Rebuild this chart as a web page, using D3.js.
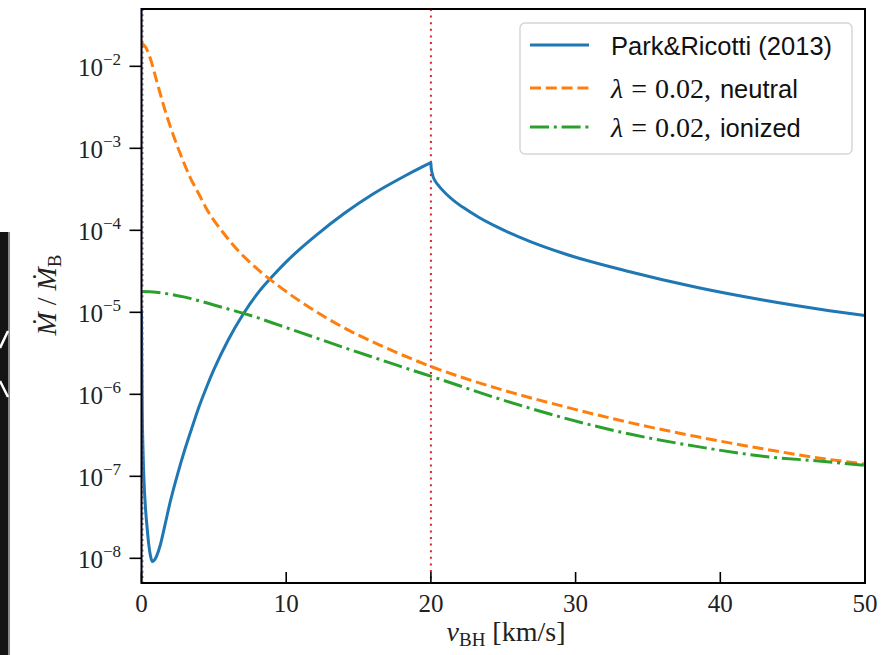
<!DOCTYPE html>
<html>
<head>
<meta charset="utf-8">
<script src="https://cdn.jsdelivr.net/npm/d3@7/dist/d3.min.js"></script>
<style>
  html, body { margin: 0; padding: 0; background: #fff; }
  svg { display: block; }
</style>
</head>
<body>
<svg id="chart" width="887" height="655"></svg>
<script>
// ---------------- data (values given as log10 of Mdot/Mdot_B) ----------------
const seriesNames = ["Park&Ricotti (2013)", "neutral", "ionized"];
const xTicks = [0, 10, 20, 30, 40, 50];
const yTickExps = [-2, -3, -4, -5, -6, -7, -8];

const parkV = [0, 0.02, 0.05, 0.1, 0.17, 0.28, 0.4, 0.5, 0.62, 0.75, 0.9, 1.05, 1.28, 1.6, 2, 2.5, 3, 3.5, 4, 4.5, 5, 6, 7, 8, 9, 10, 11, 12, 14, 16, 18, 19.5, 19.9, 20,
               20.01, 20.03, 20.08, 20.15, 20.3, 20.6, 21.08, 21.6, 22.22, 23.3, 24.53, 26.83, 29.13, 33.74, 38.34, 42.94, 47.55, 50];
const parkLog = [-4.97, -5.6, -6.2, -6.65, -7.04, -7.4, -7.65, -7.83, -7.97, -8.04, -8.02, -7.97, -7.85, -7.61, -7.30, -6.97, -6.67, -6.40, -6.14, -5.91, -5.70, -5.335, -5.03, -4.775, -4.57, -4.385, -4.22, -4.07, -3.795, -3.557, -3.356, -3.218, -3.183, -3.175,
                 -3.215, -3.25, -3.30, -3.345, -3.40, -3.47, -3.56, -3.64, -3.72, -3.84, -3.955, -4.135, -4.28, -4.505, -4.695, -4.85, -4.98, -5.04];

const neutralV = [0, 0.3, 0.6, 1.05, 1.6, 2.2, 2.8, 3.35, 4.0, 4.5, 5.65, 6.8, 8.0, 9.56, 11.87, 14.17, 16.47, 18.77, 19.92, 24.53, 29.13, 33.74, 38.34, 42.94, 47.55, 50];
const neutralLog = [-1.72, -1.77, -1.90, -2.18, -2.52, -2.84, -3.12, -3.35, -3.57, -3.74, -4.03, -4.27, -4.47, -4.69, -4.97, -5.205, -5.40, -5.575, -5.655, -5.925, -6.146, -6.345, -6.515, -6.665, -6.795, -6.85];

const ionizedV = [0, 1, 2, 3, 4, 5, 6, 7, 8, 9.56, 11.87, 14.17, 16.47, 18.77, 19.92, 24.53, 29.13, 33.74, 38.34, 42.94, 47.55, 50];
const ionizedLog = [-4.747, -4.755, -4.78, -4.815, -4.86, -4.91, -4.96, -5.01, -5.065, -5.16, -5.30, -5.44, -5.575, -5.71, -5.775, -6.045, -6.285, -6.485, -6.635, -6.755, -6.825, -6.868];

const vlines = [0, 20];

// ---------------- layout ----------------
const svg = d3.select("#chart");
const X0 = 141.5, X1 = 865, Y0 = 9, Y1 = 583;
const x = d3.scaleLinear().domain([0, 50]).range([X0, X1]);
const y = d3.scaleLog().domain([5e-9, 5e-2]).range([Y1, Y0]);

const SERIF = "'Liberation Serif', 'DejaVu Serif', serif";
const SANS = "'Liberation Sans', 'DejaVu Sans', sans-serif";

// left scan artefact stripe
svg.append("rect").attr("x", 0).attr("y", 232).attr("width", 8).attr("height", 423).attr("fill", "#141414");
svg.append("rect").attr("x", 8).attr("y", 232).attr("width", 2).attr("height", 423).attr("fill", "#888");
svg.append("path").attr("d", "M8,331 L0,348 M0,381 L8,397").attr("stroke", "#fff").attr("stroke-width", 2.5).attr("fill", "none");

const defs = svg.append("defs");
defs.append("clipPath").attr("id", "clip").append("rect")
  .attr("x", X0).attr("y", Y0).attr("width", X1 - X0).attr("height", Y1 - Y0);

const plot = svg.append("g").attr("clip-path", "url(#clip)");

const line = d3.line().x(d => x(d[0])).y(d => y(d[1])).curve(d3.curveMonotoneX);

// vertical reference line at 20 km/s
plot.append("line").attr("x1", x(vlines[1])).attr("x2", x(vlines[1])).attr("y1", Y0).attr("y2", Y1)
  .attr("stroke", "#d62728").attr("stroke-width", 2).attr("stroke-dasharray", "2,4.6");

const series = [
  { v: parkV, l: parkLog, color: "#1f77b4", dash: null },
  { v: neutralV, l: neutralLog, color: "#ff7f0e", dash: "11,4.8" },
  { v: ionizedV, l: ionizedLog, color: "#2ca02c", dash: "19,4.8,3,4.8" }
];
series.forEach(s => {
  const p = plot.append("path")
    .attr("d", line(s.v.map((v, i) => [v, Math.pow(10, s.l[i])])))
    .attr("fill", "none").attr("stroke", s.color).attr("stroke-width", 3)
    .attr("stroke-linejoin", "round");
  if (s.dash) p.attr("stroke-dasharray", s.dash);
});

plot.append("line").attr("x1", x(vlines[0]) + 1).attr("x2", x(vlines[0]) + 1).attr("y1", Y0).attr("y2", Y1)
  .attr("stroke", "#9467bd").attr("stroke-width", 2).attr("stroke-dasharray", "2,3.3");

// axes frame
svg.append("rect").attr("x", X0).attr("y", Y0).attr("width", X1 - X0).attr("height", Y1 - Y0)
  .attr("fill", "none").attr("stroke", "#000").attr("stroke-width", 2);

// x ticks (inward)
const gx = svg.append("g");
xTicks.forEach(t => {
  gx.append("line").attr("x1", x(t)).attr("x2", x(t)).attr("y1", Y1).attr("y2", Y1 - 11)
    .attr("stroke", "#000").attr("stroke-width", 1.6);
  gx.append("text").attr("x", x(t)).attr("y", 612).attr("text-anchor", "middle")
    .attr("font-family", SERIF).attr("font-size", 25).attr("fill", "#222").text(t);
});

// y ticks (outward)
const gy = svg.append("g");
yTickExps.forEach(e => {
  const yy = y(Math.pow(10, e));
  gy.append("line").attr("x1", X0 - 12).attr("x2", X0).attr("y1", yy).attr("y2", yy)
    .attr("stroke", "#000").attr("stroke-width", 1.6);
  const t = gy.append("text").attr("x", 121).attr("y", yy + 10).attr("text-anchor", "end")
    .attr("font-family", SERIF).attr("font-size", 25).attr("fill", "#222");
  t.append("tspan").text("10");
  t.append("tspan").attr("font-size", 17).attr("dy", -11).text("\u2212" + Math.abs(e));
});

// axis titles
const xt = svg.append("text").attr("x", 506).attr("y", 641).attr("text-anchor", "middle")
  .attr("font-family", SERIF).attr("font-size", 28).attr("fill", "#222");
xt.append("tspan").attr("font-style", "italic").text("v");
xt.append("tspan").attr("font-size", 19).attr("dy", 5).text("BH");
xt.append("tspan").attr("dy", -5).text(" [km/s]");

const yt = svg.append("text").attr("transform", "translate(56,295) rotate(-90)").attr("text-anchor", "middle")
  .attr("font-family", SERIF).attr("font-size", 28).attr("fill", "#222");
yt.append("tspan").attr("font-style", "italic").text("M\u0307");
yt.append("tspan").text(" / ");
yt.append("tspan").attr("font-style", "italic").text("M\u0307");
yt.append("tspan").attr("font-size", 19).attr("dy", 5).text("B");

// legend
const lg = svg.append("g");
lg.append("rect").attr("x", 520).attr("y", 23).attr("width", 332).attr("height", 131).attr("rx", 5)
  .attr("fill", "#fff").attr("fill-opacity", 0.85).attr("stroke", "#d6d6d6").attr("stroke-width", 1.5);
const rowsY = [45, 88, 127];
series.forEach((s, i) => {
  const l = lg.append("line").attr("x1", 530).attr("x2", 589).attr("y1", rowsY[i]).attr("y2", rowsY[i])
    .attr("stroke", s.color).attr("stroke-width", 3);
  if (s.dash) l.attr("stroke-dasharray", s.dash);
  const t = lg.append("text").attr("x", 611).attr("y", rowsY[i] + 10).attr("font-size", 25.5).attr("fill", "#111");
  if (i === 0) {
    t.attr("font-family", SANS).text(seriesNames[0]);
  } else {
    t.append("tspan").attr("font-family", SERIF).attr("font-size", 28).attr("font-style", "italic").text("\u03bb");
    t.append("tspan").attr("font-family", SERIF).attr("font-size", 28).attr("dx", 8).text("=");
    t.append("tspan").attr("font-family", SERIF).attr("font-size", 28).attr("dx", 8).text("0.02,");
    t.append("tspan").attr("font-family", SANS).attr("dx", 9).text(seriesNames[i]);
  }
});
</script>
</body>
</html>
